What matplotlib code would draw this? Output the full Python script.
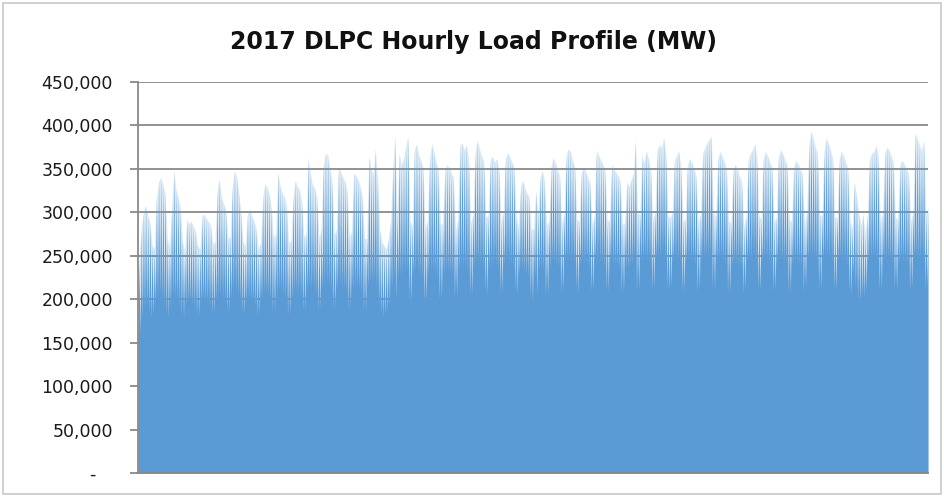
import matplotlib
matplotlib.use("Agg")
import matplotlib.pyplot as plt
from matplotlib.ticker import FuncFormatter, FixedLocator
from matplotlib.patches import Rectangle

title = "2017 DLPC Hourly Load Profile (MW)"
y_ticks = [0, 50000, 100000, 150000, 200000, 250000, 300000, 350000, 400000, 450000]

# daily peak load (thousand MW), week by week (Sun..Sat)
peak_k = [
    245, 282, 301, 308, 296, 288, 262,
    258, 318, 336, 340, 331, 322, 270,
    262, 305, 348, 326, 318, 305, 268,
    255, 292, 287, 290, 284, 279, 262,
    258, 296, 298, 293, 289, 285, 264,
    266, 325, 339, 318, 310, 302, 270,
    272, 330, 348, 341, 322, 300, 266,
    262, 298, 304, 296, 290, 281, 258,
    265, 318, 333, 329, 322, 305, 272,
    275, 346, 331, 322, 318, 308, 265,
    268, 318, 337, 330, 326, 312, 272,
    276, 363, 345, 332, 328, 318, 270,
    282, 355, 368, 366, 350, 336, 275,
    280, 352, 347, 340, 336, 325, 272,
    278, 345, 342, 338, 330, 318, 270,
    270, 365, 350, 344, 373, 340, 280,
    266, 262, 258, 270, 290, 352, 388,
    300, 368, 355, 362, 376, 388, 290,
    285, 372, 379, 366, 360, 352, 282,
    290, 362, 379, 370, 358, 350, 288,
    286, 348, 355, 352, 346, 340, 280,
    292, 376, 380, 372, 378, 362, 288,
    298, 368, 383, 374, 365, 358, 295,
    296, 360, 365, 358, 362, 350, 290,
    300, 362, 369, 364, 358, 352, 296,
    284, 330, 337, 328, 322, 318, 280,
    282, 325, 300, 340, 348, 338, 285,
    290, 352, 363, 358, 350, 342, 288,
    298, 365, 373, 370, 360, 352, 292,
    290, 345, 352, 348, 340, 335, 286,
    296, 371, 366, 360, 355, 348, 290,
    292, 355, 350, 346, 342, 336, 286,
    288, 335, 330, 338, 345, 383, 300,
    298, 365, 358, 371, 362, 350, 292,
    300, 372, 378, 375, 386, 368, 296,
    294, 300, 360, 366, 371, 352, 290,
    292, 355, 362, 358, 350, 342, 288,
    298, 368, 375, 380, 384, 388, 300,
    296, 362, 370, 365, 358, 350, 290,
    288, 348, 355, 350, 342, 336, 284,
    295, 360, 368, 372, 379, 364, 296,
    292, 362, 370, 365, 358, 352, 290,
    294, 365, 372, 368, 360, 355, 292,
    290, 352, 360, 356, 350, 345, 288,
    300, 378, 394, 386, 375, 368, 298,
    296, 370, 386, 380, 372, 362, 294,
    294, 360, 371, 365, 358, 350, 290,
    282, 335, 320, 300, 285, 298, 276,
    296, 362, 368, 370, 377, 365, 292,
    298, 368, 375, 372, 365, 358, 294,
    292, 355, 360, 356, 350, 345, 290,
    300, 391, 385, 378, 372, 383, 298,
    305,
]

# daily minimum load (thousand MW)
min_k = [
    152, 160, 178, 190, 192, 186, 180,
    182, 195, 203, 206, 200, 197, 184,
    180, 192, 204, 201, 198, 193, 183,
    179, 194, 196, 198, 195, 191, 182,
    181, 196, 199, 197, 196, 192, 184,
    183, 199, 206, 204, 202, 198, 186,
    186, 202, 210, 208, 203, 197, 185,
    183, 196, 200, 199, 196, 192, 181,
    184, 200, 208, 206, 204, 199, 186,
    186, 206, 211, 209, 205, 201, 182,
    184, 201, 209, 208, 206, 202, 187,
    188, 211, 214, 212, 210, 205, 186,
    190, 212, 218, 219, 215, 209, 189,
    191, 213, 216, 215, 213, 208, 188,
    190, 212, 215, 214, 211, 206, 186,
    186, 215, 219, 218, 222, 214, 192,
    184, 179, 182, 186, 194, 214, 224,
    198, 226, 228, 227, 230, 232, 200,
    196, 228, 232, 229, 226, 224, 195,
    198, 229, 233, 231, 228, 225, 199,
    200, 230, 233, 232, 230, 227, 202,
    204, 235, 238, 236, 237, 232, 205,
    206, 238, 242, 240, 238, 235, 208,
    205, 236, 240, 238, 239, 234, 207,
    208, 240, 243, 241, 239, 236, 210,
    205, 230, 234, 231, 229, 226, 203,
    196, 228, 205, 234, 236, 232, 204,
    206, 238, 244, 242, 240, 236, 208,
    210, 244, 248, 247, 244, 240, 212,
    208, 240, 243, 242, 240, 236, 209,
    211, 246, 245, 243, 241, 238, 210,
    209, 242, 241, 240, 238, 235, 208,
    207, 237, 235, 238, 240, 248, 212,
    212, 245, 243, 247, 244, 240, 210,
    214, 248, 250, 249, 252, 246, 213,
    210, 214, 244, 246, 247, 242, 209,
    210, 243, 245, 244, 242, 238, 208,
    212, 246, 248, 249, 250, 252, 214,
    211, 244, 247, 245, 243, 240, 209,
    208, 240, 242, 241, 239, 236, 207,
    212, 244, 246, 247, 249, 244, 211,
    210, 243, 246, 244, 242, 239, 209,
    211, 244, 247, 245, 243, 240, 210,
    209, 240, 243, 242, 240, 237, 208,
    214, 248, 252, 250, 248, 245, 213,
    212, 246, 250, 248, 246, 243, 211,
    211, 244, 247, 246, 243, 240, 209,
    205, 228, 215, 200, 195, 205, 203,
    210, 244, 246, 247, 249, 244, 210,
    212, 246, 248, 247, 245, 242, 211,
    210, 242, 244, 243, 241, 238, 209,
    214, 250, 249, 247, 246, 248, 212,
    215,
]

# hourly series: night-time minimum and afternoon peak of each day
hours = []
loads = []
for d in range(len(peak_k)):
    hours += [24 * d + 4, 24 * d + 16]
    loads += [min_k[d] * 1000, peak_k[d] * 1000]

peak_hours = hours[1::2]
peak_loads = loads[1::2]

W, H = 944, 497
fig = plt.figure(figsize=(W / 100, H / 100), dpi=100)
ax = fig.add_axes([138 / W, 1 - 473 / H, (928 - 138) / W, (473 - 82) / H])

blue = "#5B9BD5"
# faint envelope through the daily peaks (dense hourly values in the original)
ax.fill_between(peak_hours, 0, peak_loads, color=blue, alpha=0.22,
                linewidth=0, zorder=2)
ax.fill_between(hours, 0, loads, color=blue, linewidth=0, antialiased=True, zorder=3)

ax.set_xlim(hours[0], hours[-1])
ax.set_ylim(y_ticks[0], y_ticks[-1])
ax.yaxis.set_major_locator(FixedLocator(y_ticks))
ax.yaxis.set_major_formatter(FuncFormatter(lambda v, p: "-   " if v == 0 else f"{int(v):,}"))
ax.set_xticks([])
ax.set_axisbelow(True)
ax.grid(axis="y", color="#898989", linewidth=1.3, zorder=0)
for s in ("top", "right"):
    ax.spines[s].set_visible(False)
for s in ("left", "bottom"):
    ax.spines[s].set_color("#898989")
    ax.spines[s].set_linewidth(1.3)
    ax.spines[s].set_zorder(4)
ax.tick_params(axis="y", length=6, width=1.3, color="#898989", pad=12,
               labelsize=12.5, labelcolor="#1a1a1a")

fig.text(474 / W, 1 - 42 / H, title, ha="center", va="center",
         fontsize=17, fontweight="bold", color="#111111")

fig.patches.append(Rectangle((3 / W, 1 - 494 / H), (941 - 3) / W, (494 - 3) / H,
                             transform=fig.transFigure, fill=False,
                             edgecolor="#c8c8c8", linewidth=1.2))

fig.savefig("out.png", dpi=100)
